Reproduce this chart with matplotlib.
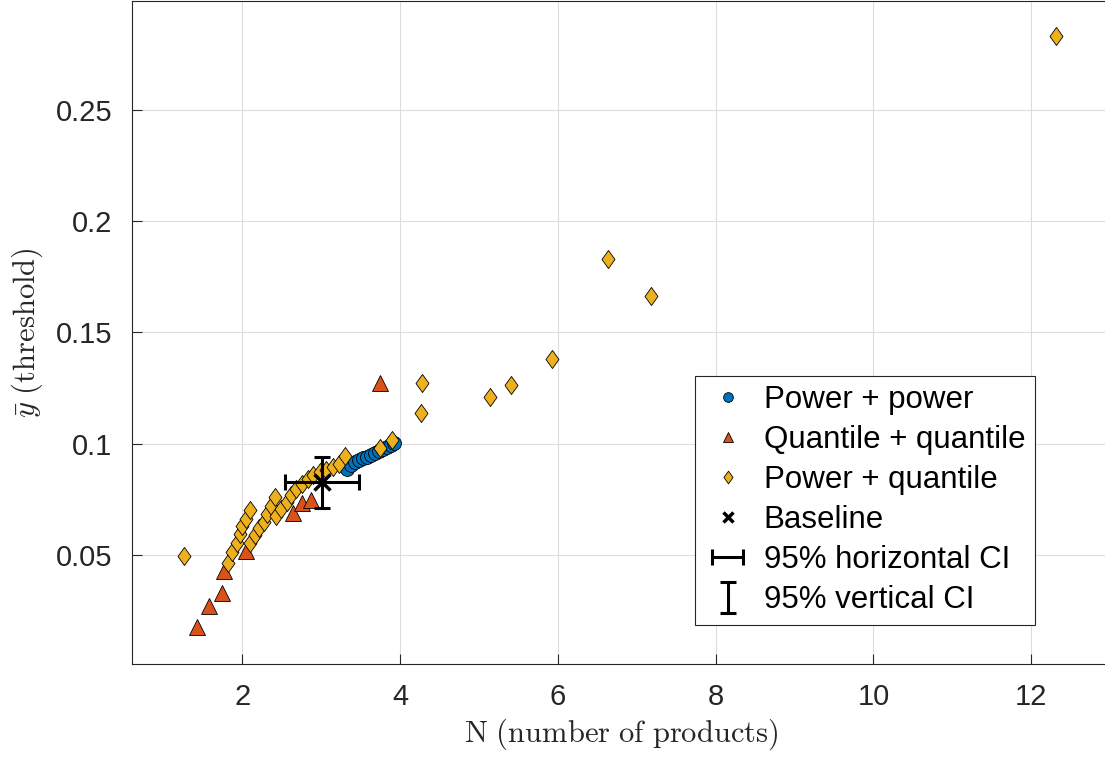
import matplotlib
matplotlib.use('Agg')
import matplotlib.pyplot as plt
from matplotlib.path import Path

plt.rcParams['font.family'] = ['Liberation Sans', 'DejaVu Sans']
plt.rcParams['mathtext.fontset'] = 'cm'

# Power + power
pp_x = [3.33, 3.38, 3.43, 3.48, 3.53, 3.58, 3.63, 3.68, 3.73, 3.78, 3.83, 3.88, 3.92]
pp_y = [0.0888, 0.0905, 0.0918, 0.0928, 0.0935, 0.0942, 0.0950, 0.0958, 0.0966, 0.0975, 0.0985, 0.0995, 0.1003]

# Quantile + quantile
qq_x = [1.42, 1.57, 1.74, 1.77, 2.05, 2.64, 2.75, 2.87, 3.75]
qq_y = [0.0177, 0.0272, 0.0330, 0.0430, 0.0520, 0.0688, 0.0733, 0.0748, 0.1275]

# Power + quantile
pq_x = [1.26, 1.82, 1.87, 1.93, 1.97, 2.00, 2.04, 2.09,
        2.09, 2.16, 2.21, 2.27, 2.31, 2.36, 2.41,
        2.43, 2.49, 2.56, 2.62, 2.68, 2.76, 2.83, 2.90, 2.98, 3.06, 3.15, 3.23, 3.30, 3.74, 3.89,
        4.27, 4.28, 5.14, 5.41, 5.92, 6.63, 7.18, 12.31]
pq_y = [0.0495, 0.0463, 0.0515, 0.0555, 0.0595, 0.0628, 0.0660, 0.0703,
        0.0555, 0.0590, 0.0620, 0.0650, 0.0685, 0.0718, 0.0760,
        0.0673, 0.0707, 0.0740, 0.0770, 0.0796, 0.0820, 0.0841, 0.0860, 0.0871, 0.0883, 0.0895, 0.0910, 0.0946, 0.0981, 0.1018,
        0.1140, 0.1275, 0.1212, 0.1266, 0.1383, 0.1829, 0.1662, 0.2833]

# Baseline and its confidence intervals
base_x, base_y = 3.01, 0.0827
ci_x = (2.54, 3.48)
ci_y = (0.0713, 0.0940)

# MATLAB-style diamond (a bit taller than wide)
diamond = Path([(0, 1), (0.72, 0), (0, -1), (-0.72, 0), (0, 1)],
               [Path.MOVETO, Path.LINETO, Path.LINETO, Path.LINETO, Path.CLOSEPOLY])

fig = plt.figure(figsize=(11.05, 7.63), dpi=100)
ax = fig.add_axes([0.1195, 0.1298, 0.885, 0.8683])

ax.plot(pp_x, pp_y, 'o', ms=10, mfc='#0072BD', mec='k', mew=0.6, label='Power + power')
ax.plot(qq_x, qq_y, '^', ms=11, mfc='#D95319', mec='k', mew=0.6, label='Quantile + quantile')
ax.plot(pq_x, pq_y, marker=diamond, ls='none', ms=13, mfc='#EDB120', mec='k', mew=0.6,
        label='Power + quantile')
ax.plot(base_x, base_y, 'x', ms=11, mew=2.5, color='k', label='Baseline', zorder=5)
ax.errorbar(base_x, base_y, xerr=[[base_x - ci_x[0]], [ci_x[1] - base_x]], fmt='none',
            ecolor='k', elinewidth=2.2, capsize=6, capthick=2.2, label='95% horizontal CI', zorder=5)
ax.errorbar(base_x, base_y, yerr=[[base_y - ci_y[0]], [ci_y[1] - base_y]], fmt='none',
            ecolor='k', elinewidth=2.2, capsize=6, capthick=2.2, label='95% vertical CI', zorder=5)

ax.set_xlim(0.6, 13.0)
ax.set_ylim(0.001, 0.2988)
ax.set_xticks([2, 4, 6, 8, 10, 12])
ax.set_yticks([0.05, 0.1, 0.15, 0.2, 0.25])
ax.set_yticklabels(['0.05', '0.1', '0.15', '0.2', '0.25'])
ax.grid(True, color='#dcdcdc', lw=0.8)
ax.set_axisbelow(True)
ax.tick_params(direction='in', length=7, labelsize=21, colors='#262626', pad=14)
for s in ax.spines.values():
    s.set_color('#262626')
    s.set_linewidth(0.8)
ax.spines['right'].set_visible(False)

ax.set_xlabel(r'$\mathrm{N\ (number\ of\ products)}$', fontsize=22, color='#262626')
ax.set_ylabel(r'$\bar{y}\ \mathrm{(threshold)}$', fontsize=22, color='#262626', labelpad=8)

leg = ax.legend(loc='upper left', bbox_to_anchor=(0.5757, 0.4347), fontsize=22.5, markerscale=0.7,
                frameon=True, fancybox=False, edgecolor='#262626', framealpha=1,
                handlelength=1.5, handletextpad=0.4, labelspacing=0.32, borderpad=0.3,
                borderaxespad=0)
leg.get_frame().set_linewidth(0.8)

fig.savefig('out.png', dpi=100)
